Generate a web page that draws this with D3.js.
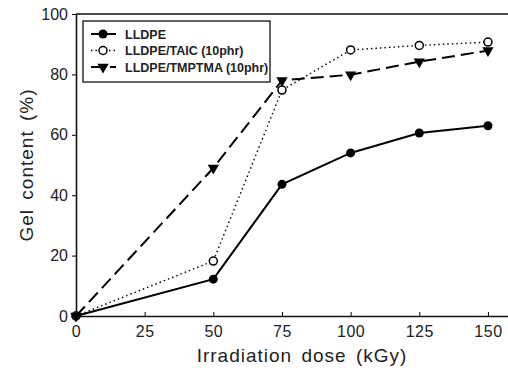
<!DOCTYPE html>
<html lang="en">
<head>
    <meta charset="UTF-8">
    <title>gelContent</title>
    <script src="https://d3js.org/d3.v7.min.js"></script>
    <style>
        body { margin: 0; background: #fff; }
        svg { display: block; font-family: "Liberation Sans", Arial, sans-serif; }
    </style>
</head>
<body>
    <div id="chart-container"></div>
    <script>
        // data
        const doses = [0, 50, 75, 100, 125, 150];
        const lldpe = [0, 12.2, 43.6, 54, 60.6, 63];
        const lldpeTaic = [0, 18.2, 74.8, 88.1, 89.6, 90.7];
        const lldpeTmptma = [0, 49, 78, 79.9, 84.2, 87.9];
        const seriesNames = ["LLDPE", "LLDPE/TAIC (10phr)", "LLDPE/TMPTMA (10phr)"];
        const xTicks = [0, 25, 50, 75, 100, 125, 150];
        const yTicks = [0, 20, 40, 60, 80, 100];

        const width = 508, height = 372;
        const margin = {top: 14, right: 0, bottom: 56, left: 76};
        const innerW = width - margin.left - margin.right,
              innerH = height - margin.top - margin.bottom;

        const svg = d3.select("#chart-container").append("svg")
            .attr("width", width)
            .attr("height", height);
        const g = svg.append("g")
            .attr("transform", `translate(${margin.left}, ${margin.top})`);

        const x = d3.scaleLinear().domain([0, 157.3]).range([0, innerW]);
        const y = d3.scaleLinear().domain([0, 100]).range([innerH, 0]);

        // top frame line
        g.append("line").attr("x1", 0).attr("x2", innerW).attr("y1", 0).attr("y2", 0)
            .attr("stroke", "#111").attr("stroke-width", 1.3);

        const xAxis = g.append("g")
            .attr("transform", `translate(0, ${innerH})`)
            .call(d3.axisBottom(x).tickValues(xTicks).tickSizeInner(-4).tickSizeOuter(0).tickPadding(10));
        xAxis.select(".domain").attr("stroke", "#111").attr("stroke-width", 1.6);
        xAxis.selectAll("text").attr("font-size", 16).attr("letter-spacing", 0.5).attr("fill", "#222");

        const yAxis = g.append("g")
            .call(d3.axisLeft(y).tickValues(yTicks).tickSizeInner(4).tickSizeOuter(0).tickPadding(4));
        yAxis.select(".domain").attr("stroke", "#111").attr("stroke-width", 1.6);
        yAxis.selectAll("text").attr("font-size", 16).attr("fill", "#222");

        svg.append("text")
            .attr("transform", `translate(33, ${margin.top + innerH / 2}) rotate(-90)`)
            .attr("text-anchor", "middle")
            .attr("font-size", 19)
            .attr("letter-spacing", 1)
            .attr("word-spacing", 3)
            .attr("fill", "#222")
            .text("Gel content (%)");
        svg.append("text")
            .attr("x", 302)
            .attr("y", 362)
            .attr("text-anchor", "middle")
            .attr("font-size", 19)
            .attr("letter-spacing", 1)
            .attr("word-spacing", 3)
            .attr("fill", "#222")
            .text("Irradiation dose (kGy)");

        const series = [
            {name: seriesNames[0], values: lldpe, dash: null, width: 2, marker: "dot"},
            {name: seriesNames[1], values: lldpeTaic, dash: "1.5,3", width: 1.4, marker: "open"},
            {name: seriesNames[2], values: lldpeTmptma, dash: "13,6", width: 2, marker: "tri"}
        ];

        const line = d3.line().x(d => x(d[0])).y(d => y(d[1]));
        const triangle = d3.symbol().type(d3.symbolTriangle).size(55);

        function drawMarker(sel, type) {
            if (type === "dot") {
                sel.append("circle").attr("r", 4.5).attr("fill", "#000");
            } else if (type === "open") {
                sel.append("circle").attr("r", 4).attr("fill", "#fff").attr("stroke", "#000").attr("stroke-width", 1.5);
            } else {
                sel.append("path").attr("d", triangle).attr("transform", "rotate(180)").attr("fill", "#000");
            }
        }

        series.forEach(s => {
            const pts = doses.map((d, i) => [d, s.values[i]]);
            g.append("path")
                .datum(pts)
                .attr("d", line)
                .attr("fill", "none")
                .attr("stroke", "#000")
                .attr("stroke-width", s.width)
                .attr("stroke-dasharray", s.dash);
            g.selectAll(null)
                .data(pts)
                .enter().append("g")
                .attr("transform", d => `translate(${x(d[0])}, ${y(d[1])})`)
                .call(sel => drawMarker(sel, s.marker));
        });

        // legend
        const legend = svg.append("g").attr("transform", "translate(83, 21)");
        legend.append("rect")
            .attr("width", 187).attr("height", 61)
            .attr("fill", "#fff").attr("stroke", "#111").attr("stroke-width", 1.3);
        series.forEach((s, i) => {
            const row = legend.append("g").attr("transform", `translate(0, ${13 + i * 16.5})`);
            row.append("line")
                .attr("x1", 8).attr("x2", 33).attr("y1", 0).attr("y2", 0)
                .attr("stroke", "#000").attr("stroke-width", s.width)
                .attr("stroke-dasharray", s.dash);
            row.append("g").attr("transform", "translate(20, 0)").call(sel => drawMarker(sel, s.marker));
            row.append("text")
                .attr("x", 42).attr("y", 4.5)
                .attr("font-size", 12.5).attr("font-weight", "bold").attr("fill", "#222")
                .text(s.name);
        });
    </script>
</body>
</html>
